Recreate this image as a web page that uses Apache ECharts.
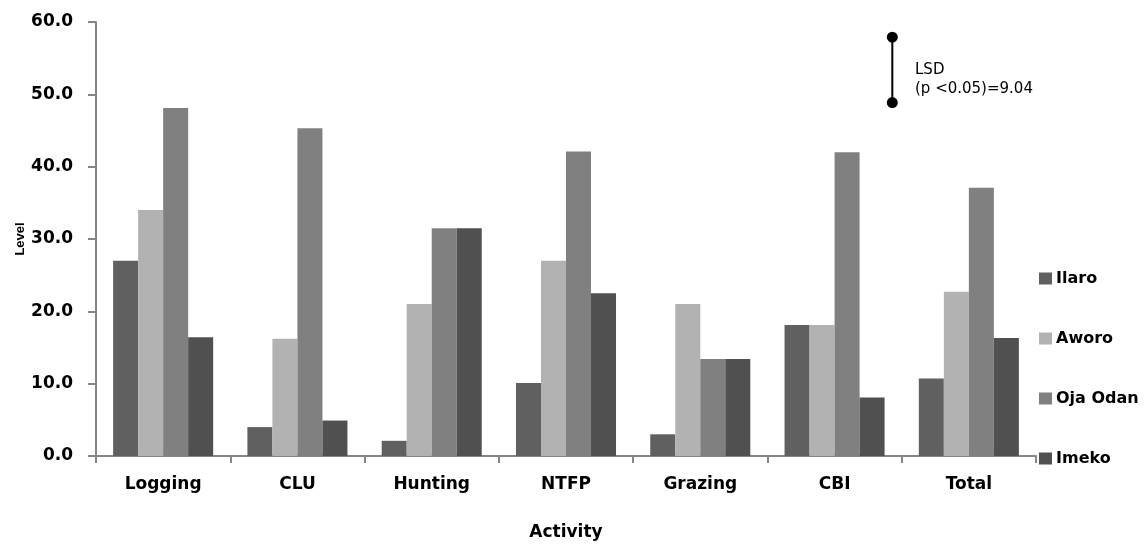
<!DOCTYPE html>
<html>
<head>
<meta charset="utf-8">
<script src="https://cdn.jsdelivr.net/npm/echarts@6/dist/echarts.min.js"></script>
<style>
  html, body { margin: 0; padding: 0; background: #ffffff; }
  #chart { width: 1148px; height: 546px; }
</style>
</head>
<body>
<div id="chart"></div>
<script>
// Activity categories along the x axis
const activities = ['Logging', 'CLU', 'Hunting', 'NTFP', 'Grazing', 'CBI', 'Total'];

// Level per activity for each community
const ilaro   = [27.0, 4.0, 2.1, 10.1, 3.0, 18.1, 10.7];
const aworo   = [34.0, 16.2, 21.0, 27.0, 21.0, 18.1, 22.7];
const ojaOdan = [48.1, 45.3, 31.5, 42.1, 13.4, 42.0, 37.1];
const imeko   = [16.4, 4.9, 31.5, 22.5, 13.4, 8.1, 16.3];

const seriesNames = ['Ilaro', 'Aworo', 'Oja Odan', 'Imeko'];
const seriesColors = ['#606060', '#b2b2b2', '#808080', '#505050'];

// Least significant difference bar: position on a 0..7 scale across the categories
const lsdX = 5.93;
const lsdTop = 57.9;
const lsdValue = 9.04;

// Value axis ticks
const yMin = 0, yMax = 60, yStep = 10;

const chart = echarts.init(document.getElementById('chart'), null, { renderer: 'canvas' });

const axisGray = '#868686';
const boldFont = 'DejaVu Sans';

const barSeries = [ilaro, aworo, ojaOdan, imeko].map((vals, i) => ({
  name: seriesNames[i],
  type: 'bar',
  data: vals,
  xAxisIndex: 0,
  barGap: '0%',
  barCategoryGap: '25.5%',
  itemStyle: { color: seriesColors[i] },
  emphasis: { disabled: true },
  animation: false
}));

const option = {
  animation: false,
  grid: { left: 96, right: 112, top: 22, bottom: 86, containLabel: false },
  legend: {
    orient: 'vertical',
    left: 1034,
    top: 265,
    itemWidth: 13,
    itemHeight: 12,
    itemGap: 43,
    icon: 'rect',
    data: seriesNames,
    textStyle: { fontFamily: boldFont, fontWeight: 'bold', fontSize: 16, color: '#000', lineHeight: 17, padding: [0, 0, 0, -1] }
  },
  xAxis: [
    {
      type: 'category',
      data: activities,
      name: 'Activity',
      nameLocation: 'middle',
      nameGap: 68,
      nameMoveOverlap: false,
      nameTextStyle: { fontFamily: boldFont, fontWeight: 'bold', fontSize: 17, color: '#000' },
      axisLine: { lineStyle: { color: axisGray, width: 2 } },
      axisTick: { show: true, length: 7, lineStyle: { color: axisGray, width: 2 } },
      axisLabel: { margin: 20, fontFamily: boldFont, fontWeight: 'bold', fontSize: 17, color: '#000' },
      splitLine: { show: false }
    },
    {
      type: 'value',
      min: 0,
      max: activities.length,
      show: false
    }
  ],
  yAxis: {
    type: 'value',
    min: yMin,
    max: yMax,
    interval: yStep,
    name: 'Level',
    nameLocation: 'middle',
    nameGap: 69,
    nameMoveOverlap: false,
    nameRotate: 90,
    nameTextStyle: { fontFamily: 'Liberation Sans', fontWeight: 'bold', fontSize: 13, color: '#000' },
    axisLine: { show: true, lineStyle: { color: axisGray, width: 2 } },
    axisTick: { show: true, length: 8, lineStyle: { color: axisGray, width: 2 } },
    axisLabel: {
      margin: 23,
      fontFamily: boldFont, fontWeight: 'bold', fontSize: 17, color: '#000',
      formatter: v => v.toFixed(1)
    },
    splitLine: { show: false }
  },
  series: barSeries.concat([{
    name: 'LSD',
    type: 'line',
    xAxisIndex: 1,
    data: [[lsdX, lsdTop], [lsdX, lsdTop - lsdValue]],
    symbol: 'circle',
    symbolSize: 11,
    lineStyle: { color: '#000', width: 2 },
    itemStyle: { color: '#000' },
    emphasis: { disabled: true },
    silent: true,
    z: 5
  }]),
  graphic: [{
    type: 'text',
    left: 915,
    top: 61,
    style: {
      text: 'LSD\n(p <0.05)=' + lsdValue.toFixed(2),
      fontFamily: 'DejaVu Sans',
      fontSize: 15,
      lineHeight: 19,
      fill: '#000'
    }
  }]
};

chart.setOption(option);
</script>
</body>
</html>
